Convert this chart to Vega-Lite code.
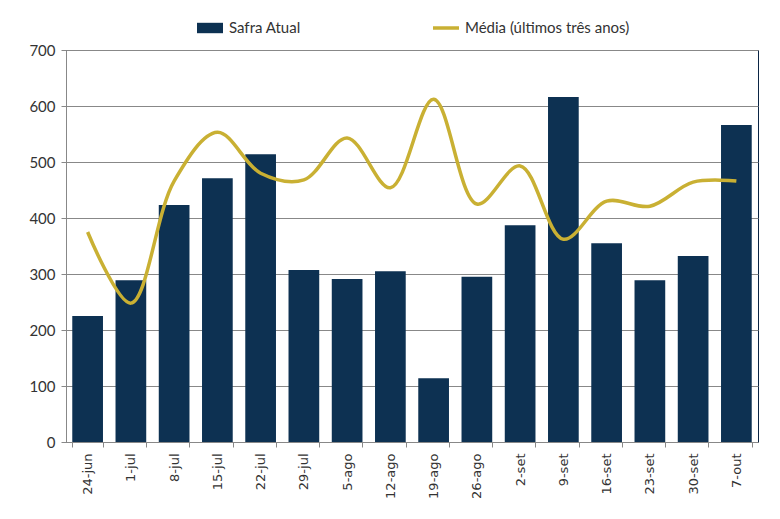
{
  "$schema": "https://vega.github.io/schema/vega-lite/v6.json",
  "autosize": {"type": "none"},
  "padding": {"left": 66, "top": 50, "right": 22, "bottom": 77},
  "width": 692,
  "height": 392,
  "background": "white",
  "config": {
    "view": {"stroke": "#0b2545", "strokeWidth": 1},
    "font": "Lato",
    "legend": {
      "orient": "top",
      "direction": "horizontal",
      "labelFont": "Lato",
      "labelFontSize": 15,
      "labelColor": "#333333",
      "labelLimit": 300,
      "labelOffset": 4,
      "title": null,
      "offset": 9,
      "layout": {"top": {"anchor": "middle", "direction": "horizontal", "margin": 130}}
    }
  },
  "data": {
    "values": [
      {"semana": "24-jun", "safra": 225, "media": 375},
      {"semana": "1-jul", "safra": 289, "media": 248},
      {"semana": "8-jul", "safra": 423, "media": 466},
      {"semana": "15-jul", "safra": 471, "media": 553},
      {"semana": "22-jul", "safra": 514, "media": 480},
      {"semana": "29-jul", "safra": 307, "media": 468},
      {"semana": "5-ago", "safra": 291, "media": 543},
      {"semana": "12-ago", "safra": 305, "media": 454},
      {"semana": "19-ago", "safra": 114, "media": 612},
      {"semana": "26-ago", "safra": 295, "media": 425},
      {"semana": "2-set", "safra": 387, "media": 493},
      {"semana": "9-set", "safra": 616, "media": 362},
      {"semana": "16-set", "safra": 355, "media": 430},
      {"semana": "23-set", "safra": 289, "media": 421},
      {"semana": "30-set", "safra": 332, "media": 464},
      {"semana": "7-out", "safra": 566, "media": 466}
    ]
  },
  "encoding": {
    "x": {
      "field": "semana",
      "type": "nominal",
      "sort": null,
      "title": null,
      "scale": {"paddingInner": 0.29, "paddingOuter": 0.145},
      "axis": {
        "labelAngle": -90,
        "labelFont": "DejaVu Sans",
        "labelFontSize": 13,
        "labelColor": "#333333",
        "labelPadding": 6,
        "domainColor": "#888888",
        "tickColor": "#888888",
        "tickBand": "extent",
        "tickSize": 5
      }
    }
  },
  "layer": [
    {
      "mark": {"type": "bar", "color": "#0d3152"},
      "encoding": {
        "y": {
          "field": "safra",
          "type": "quantitative",
          "title": null,
          "scale": {"domain": [0, 700], "nice": false},
          "axis": {
            "values": [0, 100, 200, 300, 400, 500, 600, 700],
            "labelFontSize": 15,
            "labelColor": "#333333",
            "labelPadding": 6,
            "gridColor": "#888888",
            "gridWidth": 1,
            "domainColor": "#888888",
            "tickColor": "#888888",
            "tickSize": 5
          }
        },
        "fill": {
          "datum": "Safra Atual",
          "type": "nominal",
          "scale": {"range": ["#0d3152"]},
          "legend": {
            "symbolType": "M-1,-0.4H1V0.4H-1Z",
            "symbolSize": 676,
            "symbolStrokeWidth": 3.5,
            "symbolStrokeColor": "transparent"
          }
        }
      }
    },
    {
      "mark": {"type": "line", "interpolate": "catmull-rom", "strokeWidth": 3.5, "color": "#c9b033"},
      "encoding": {
        "y": {"field": "media", "type": "quantitative"},
        "stroke": {
          "datum": "Média (últimos três anos)",
          "type": "nominal",
          "scale": {"range": ["#c9b033"]},
          "legend": {
            "symbolType": "stroke",
            "symbolSize": 676,
            "symbolStrokeWidth": 3.5
          }
        }
      }
    }
  ]
}
